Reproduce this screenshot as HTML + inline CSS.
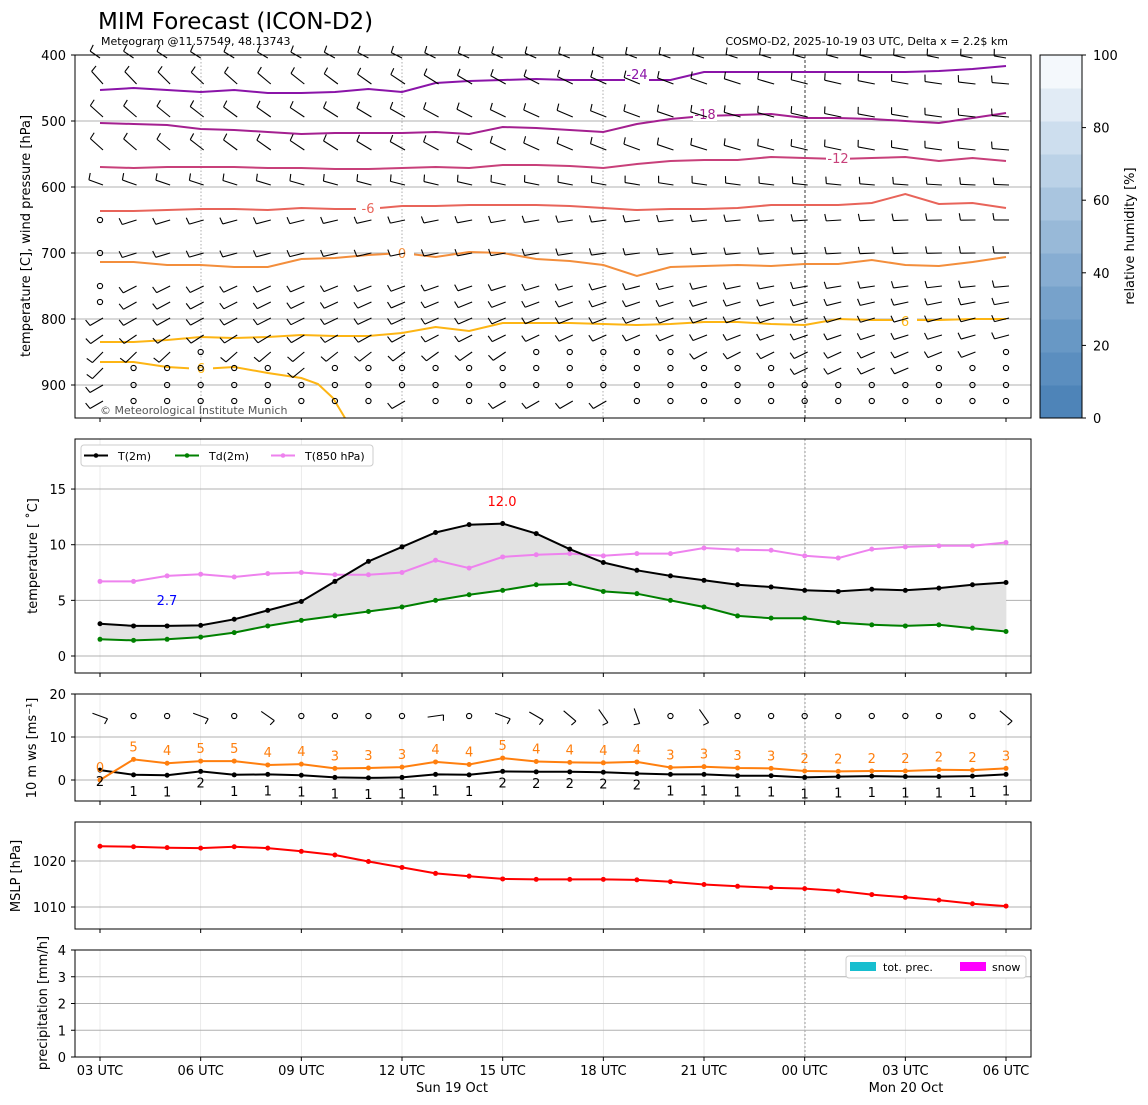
<!DOCTYPE html>
<html><head><meta charset="utf-8">
<style>
html,body{margin:0;padding:0;background:#fff;}
svg{display:block;font-family:"DejaVu Sans","Liberation Sans",sans-serif;}
</style></head>
<body>
<svg id="s" width="1148" height="1105" viewBox="0 0 1148 1105" xmlns="http://www.w3.org/2000/svg">
<rect width="1148" height="1105" fill="#fff"/>
<text x="98" y="29" font-size="23">MIM Forecast (ICON-D2)</text>
<text x="101" y="45" font-size="11">Meteogram @11.57549, 48.13743</text>
<text x="1008" y="45" font-size="11" text-anchor="end">COSMO-D2, 2025-10-19 03 UTC, Delta x = 2.2$ km</text>
<g id="g"></g>
</svg>
<script>
const G=document.getElementById('g');
let out='';
const X=i=>100+i*33.556;
function line(x1,y1,x2,y2,st){out+=`<line x1="${x1}" y1="${y1}" x2="${x2}" y2="${y2}" ${st}/>`;}
function text(x,y,t,st){out+=`<text x="${x}" y="${y}" ${st}>${t}</text>`;}
function poly(pts,st){out+=`<polyline points="${pts.map(p=>p[0].toFixed(1)+','+p[1].toFixed(1)).join(' ')}" fill="none" ${st}/>`;}
const py=p=>55+(p-400)*0.66;
[500,600,700,800,900].forEach(p=>line(75,py(p),1031,py(p),'stroke="#b0b0b0" stroke-width="1"'));
[201,402,603].forEach(x=>line(x,55,x,418,'stroke="#999" stroke-width="0.8" stroke-dasharray="1.5,2"'));
line(805,55,805,418,'stroke="#222" stroke-width="0.9" stroke-dasharray="3,2"');
const cont=[
 ['#8a14a8',[90,88,90,92,90,93,93,92,89,92,83,81,80,79,80,80,80,80,72,72,72,72,72,72,72,71,69,66]],
 ['#a42090',[123,124,125,129,130,132,134,133,133,133,132,134,127,128,130,132,124,119,116,115,114,118,118,119,121,123,118,113]],
 ['#c8407a',[167,168,167,167,167,168,168,169,169,168,167,168,165,165,166,168,164,161,160,160,157,158,159,158,157,161,158,161]],
 ['#e8645a',[211,211,210,209,209,210,208,209,209,206,206,205,205,205,206,208,210,209,209,208,205,205,205,203,194,204,203,208]],
 ['#f38e3c',[262,262,265,265,267,267,259,258,255,253,257,252,253,259,261,265,276,267,266,265,266,264,264,260,265,266,262,257]],
 ['#fdb514',[342,342,340,337,338,337,335,336,336,333,327,331,323,323,323,324,325,324,322,322,324,325,319,320,320,320,319,319]]];
cont.forEach(c=>poly(c[1].map((y,i)=>[X(i),y]),`stroke="${c[0]}" stroke-width="2"`));
poly([[X(0),362],[X(1),362],[X(2),367],[X(3),369],[X(4),367],[X(5),373],[X(6),378],[318,384],[333,398],[345,418]],'stroke="#fdb514" stroke-width="2"');
function clab(x,y,t,c){out+=`<rect x="${x-12}" y="${y-8}" width="24" height="15" fill="#fff"/>`;text(x,y+5,t,`font-size="13" fill="${c}" text-anchor="middle"`);}
clab(637,74,'-24','#8a14a8');clab(705,114,'-18','#a42090');clab(838,158,'-12','#c8407a');
clab(368,208,'-6','#e8645a');clab(402,253,'0','#f38e3c');clab(905,321,'6','#fdb514');clab(201,368,'6','#fdb514');
function barb(x,y,a,L){const r=a*Math.PI/180;const ex=x+L*Math.cos(r),ey=y+L*Math.sin(r);
 line(x,y,ex,ey,'stroke="#000" stroke-width="1.1"');
 const rr=r+Math.PI*0.45; line(ex,ey,ex+7*Math.cos(rr),ey+7*Math.sin(rr),'stroke="#000" stroke-width="1.1"');}
function circ(x,y){out+=`<circle cx="${x}" cy="${y}" r="2.6" fill="none" stroke="#000" stroke-width="1.1"/>`;}
const rows=[[60,215,190],[84,228,185],[117,222,185],[150,222,185],[185,200,182],[220,162,180],[253,162,180],[286,152,175],[302,150,170],[318,150,166],[335,145,165],[352,135,160],[368,135,160],[385,150,150],[401,150,150]];
const circles={220:[0],253:[0],286:[0],302:[0],352:[3,13,14,15,16,17,27],
 368:[1,2,3,4,5,7,8,9,10,11,12,13,14,15,16,17,18,19,20,25,26,27],
 385:[...Array(27).keys()].map(i=>i+1),401:[1,2,3,4,5,6,7,8,10,11,16,17,18,19,20,21,22,23,24,25,26,27]};
rows.forEach(([y,a0,a1])=>{for(let i=0;i<28;i++){const x=X(i);
 if(circles[y]&&circles[y].includes(i)){circ(x,y);continue;}
 const a=a0+(a1-a0)*i/27; let L=y<160?17:15; if(y==60){barb(x,y-2,a,12);continue;}
 barb(x+3,y,a,L);}});
out+=`<rect x="75" y="419" width="960" height="20" fill="#fff"/>`;
text(100,414,'© Meteorological Institute Munich','font-size="11" fill="#555"');
out+=`<rect x="75" y="55" width="956" height="363" fill="none" stroke="#000" stroke-width="1"/>`;
[400,500,600,700,800,900].forEach(p=>{line(71,py(p),75,py(p),'stroke="#000"');text(66,py(p)+5,p,'font-size="13" text-anchor="end"');});
text(30,236,'temperature [C], wind pressure [hPa]','font-size="13" text-anchor="middle" transform="rotate(-90 30 236)"');
const cols=['#4e84b8','#5b8ebf','#6898c5','#77a2cb','#87add2','#98b9d8','#a9c5df','#bbd2e7','#cddeee','#e1ebf5','#f4f8fc'];
const cbh=363/11;
for(let i=0;i<11;i++){out+=`<rect x="1040" y="${418-(i+1)*cbh}" width="42" height="${cbh+0.5}" fill="${cols[i]}"/>`;}
out+=`<rect x="1040" y="55" width="42" height="363" fill="none" stroke="#000"/>`;
[0,20,40,60,80,100].forEach(v=>{const y=418-v/100*363;line(1082,y,1086,y,'stroke="#000"');text(1093,y+5,v,'font-size="13"');});
text(1134,236,'relative humidity [%]','font-size="13" text-anchor="middle" transform="rotate(-90 1134 236)"');
function xgrid(t,b){for(let i=0;i<28;i+=3){const x=X(i);line(x,t,x,b,'stroke="#e6e6e6" stroke-width="0.8"');}
 line(805,t,805,b,'stroke="#777" stroke-width="0.7" stroke-dasharray="2,2"');}
function frame(t,b){out+=`<rect x="75" y="${t}" width="956" height="${b-t}" fill="none" stroke="#000"/>`;
 for(let i=0;i<28;i+=3){line(X(i),b,X(i),b+4,'stroke="#000"');}}
function yt(y,v){line(71,y,75,y,'stroke="#000"');text(66,y+5,v,'font-size="13" text-anchor="end"');}
const T=[2.9,2.7,2.7,2.75,3.3,4.1,4.9,6.7,8.5,9.8,11.1,11.8,11.9,11.0,9.6,8.4,7.7,7.2,6.8,6.4,6.2,5.9,5.8,6.0,5.9,6.1,6.4,6.6];
const Td=[1.5,1.4,1.5,1.7,2.1,2.7,3.2,3.6,4.0,4.4,5.0,5.5,5.9,6.4,6.5,5.8,5.6,5.0,4.4,3.6,3.4,3.4,3.0,2.8,2.7,2.8,2.5,2.2];
const T8=[6.7,6.7,7.2,7.35,7.1,7.4,7.5,7.3,7.3,7.5,8.6,7.9,8.9,9.1,9.2,9.0,9.2,9.2,9.7,9.55,9.5,9.0,8.8,9.6,9.8,9.9,9.9,10.2];
const ty=v=>656-11.13*v;
xgrid(439,673);
[0,5,10,15].forEach(v=>line(75,ty(v),1031,ty(v),'stroke="#b0b0b0"'));
const fillp=T.map((v,i)=>[X(i),ty(v)]).concat(Td.map((v,i)=>[X(i),ty(v)]).reverse());
out+=`<polygon points="${fillp.map(p=>p.join(',')).join(' ')}" fill="#e2e2e2"/>`;
function series(d,f,c){poly(d.map((v,i)=>[X(i),f(v)]),`stroke="${c}" stroke-width="2"`);d.forEach((v,i)=>out+=`<circle cx="${X(i)}" cy="${f(v)}" r="2.5" fill="${c}"/>`);}
series(T8,ty,'#ee82ee');series(Td,ty,'#008000');series(T,ty,'#000');
text(502,506,'12.0','font-size="13" fill="#f00" text-anchor="middle"');
text(167,605,'2.7','font-size="13" fill="#00f" text-anchor="middle"');
out+=`<rect x="81" y="445" width="292" height="21" rx="3" fill="#fff" stroke="#ccc"/>`;
[[84,'#000','T(2m)'],[175,'#008000','Td(2m)'],[271,'#ee82ee','T(850 hPa)']].forEach(([x,c,t])=>{line(x,455.5,x+24,455.5,`stroke="${c}" stroke-width="2"`);out+=`<circle cx="${x+12}" cy="455.5" r="2.3" fill="${c}"/>`;text(x+34,460,t,'font-size="11"');});
frame(439,673);[0,5,10,15].forEach(v=>yt(ty(v),v));
text(37,556,'temperature [ ˚C]','font-size="13" text-anchor="middle" transform="rotate(-90 37 556)"');
const wy=v=>780-4.3*v;
xgrid(694,801);
[0,10].forEach(v=>line(75,wy(v),1031,wy(v),'stroke="#b0b0b0"'));
const G1=[0,4.8,3.9,4.4,4.4,3.5,3.7,2.7,2.8,3.0,4.2,3.6,5.1,4.3,4.1,4.0,4.2,2.9,3.1,2.8,2.7,2.1,2.0,2.1,2.1,2.4,2.3,2.7];
const GL=[0,5,4,5,5,4,4,3,3,3,4,4,5,4,4,4,4,3,3,3,3,2,2,2,2,2,2,3];
const M=[2.3,1.2,1.1,2.0,1.2,1.3,1.1,0.6,0.5,0.6,1.3,1.2,2.0,1.9,1.9,1.8,1.5,1.3,1.3,1.0,1.0,0.6,0.8,0.9,0.8,0.8,0.9,1.3];
const ML=[2,1,1,2,1,1,1,1,1,1,1,1,2,2,2,2,2,1,1,1,1,1,1,1,1,1,1,1];
series(M,wy,'#000');series(G1,wy,'#ff7f0e');
GL.forEach((v,i)=>text(X(i),wy(G1[i])-8,v,'font-size="13" fill="#ff7f0e" text-anchor="middle"'));
ML.forEach((v,i)=>text(X(i),wy(M[i])+(v==2?16:21),v,'font-size="13" text-anchor="middle"'));
const sb={0:20,3:20,5:35,10:-8,12:20,13:30,14:40,15:55,16:70,18:55,27:40};
for(let i=0;i<28;i++){const y=716;if(sb[i]!==undefined){const r=sb[i]*Math.PI/180;const L=16;
 const x0=X(i)-L/2*Math.cos(r),y0=y-L/2*Math.sin(r),x1=X(i)+L/2*Math.cos(r),y1=y+L/2*Math.sin(r);
 line(x0,y0,x1,y1,'stroke="#000" stroke-width="1.1"');
 const rr=r+Math.PI*0.55; line(x1,y1,x1+6*Math.cos(rr),y1+6*Math.sin(rr),'stroke="#000" stroke-width="1.1"');}
 else circ(X(i),y);}
frame(694,801);[0,10,20].forEach(v=>yt(wy(v),v));
text(36,748,'10 m ws [ms⁻¹]','font-size="13" text-anchor="middle" transform="rotate(-90 36 748)"');
const mp=[1023.2,1023.1,1022.9,1022.8,1023.1,1022.8,1022.1,1021.3,1019.9,1018.6,1017.3,1016.7,1016.1,1016.0,1016.0,1016.0,1015.9,1015.5,1014.9,1014.5,1014.2,1014.0,1013.5,1012.7,1012.1,1011.5,1010.7,1010.2];
const my=v=>907-(v-1010)*4.6;
xgrid(822,929);[1010,1020].forEach(v=>line(75,my(v),1031,my(v),'stroke="#b0b0b0"'));
series(mp,my,'#f00');
frame(822,929);[1010,1020].forEach(v=>yt(my(v),v));
text(20,876,'MSLP [hPa]','font-size="13" text-anchor="middle" transform="rotate(-90 20 876)"');
const pry=v=>1057-v*26.75;
xgrid(950,1057);[1,2,3].forEach(v=>line(75,pry(v),1031,pry(v),'stroke="#b0b0b0"'));
out+=`<rect x="846" y="956" width="180" height="22" rx="3" fill="#fff" stroke="#ccc"/>`;
out+=`<rect x="850" y="962" width="26" height="9" fill="#17becf"/>`;text(883,971,'tot. prec.','font-size="11"');
out+=`<rect x="960" y="962" width="26" height="9" fill="#f0f"/>`;text(992,971,'snow','font-size="11"');
frame(950,1057);[0,1,2,3,4].forEach(v=>yt(pry(v),v));
text(47,1003,'precipitation [mm/h]','font-size="13" text-anchor="middle" transform="rotate(-90 47 1003)"');
['03 UTC','06 UTC','09 UTC','12 UTC','15 UTC','18 UTC','21 UTC','00 UTC','03 UTC','06 UTC'].forEach((t,k)=>text(X(k*3),1075,t,'font-size="13" text-anchor="middle"'));
text(452,1092,'Sun 19 Oct','font-size="13" text-anchor="middle"');
text(906,1092,'Mon 20 Oct','font-size="13" text-anchor="middle"');
for(let i=0;i<28;i+=3)line(X(i),418,X(i),422,'stroke="#000"');
G.innerHTML=out;
</script>
</body></html>
